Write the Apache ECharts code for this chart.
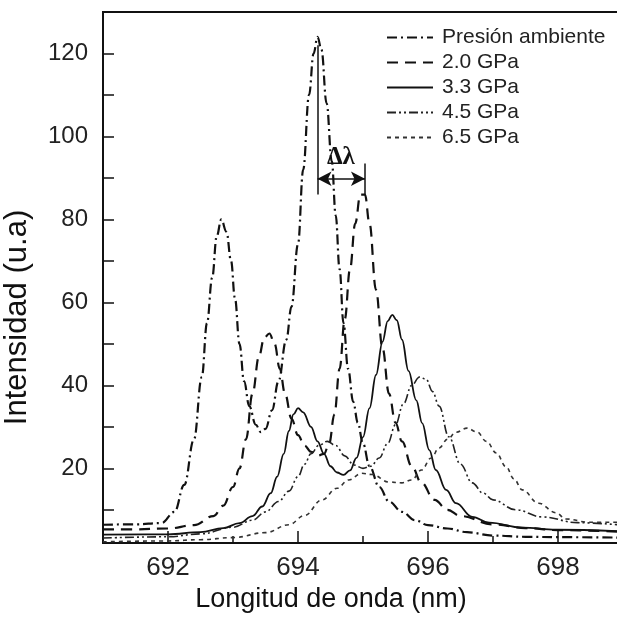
<!DOCTYPE html>
<html>
<head>
<meta charset="utf-8">
<script src="https://cdn.jsdelivr.net/npm/echarts@6/dist/echarts.min.js"></script>
<style>
  html, body { margin: 0; padding: 0; background: #fff; }
  #chart { width: 617px; height: 628px; }
</style>
</head>
<body>
<div id="chart"></div>
<script>
  // nombres de la leyenda
  const seriesNames = ['Presión ambiente', '2.0 GPa', '3.3 GPa', '4.5 GPa', '6.5 GPa']

  // Presión ambiente (raya-punto)
  const ambX = [691.0, 691.5, 691.9, 692.1, 692.25, 692.4, 692.52, 692.6, 692.68, 692.75, 692.82, 692.9, 692.97, 693.03, 693.1, 693.17, 693.25, 693.35, 693.43, 693.5, 693.6, 693.7, 693.82, 693.9, 694.0, 694.08, 694.17, 694.24, 694.3, 694.36, 694.44, 694.52, 694.58, 694.64, 694.7, 694.77, 694.85, 694.92, 695.0, 695.1, 695.25, 695.4, 695.6, 695.8, 696.0, 696.3, 696.6, 697.0, 697.5, 698.0, 699.0]
  const ambY = [6.4, 6.5, 6.8, 9.5, 16, 27, 42, 55, 66, 76, 80, 77, 70, 61, 50, 41, 35, 30.5, 28.7, 29.5, 34, 41, 51, 59, 74, 92, 110, 120, 124, 121, 108, 94, 81, 68, 55, 44, 36, 31, 26, 20.5, 15.5, 12, 9.5, 7.5, 6.3, 5.5, 4.6, 3.8, 3.5, 3.4, 3.3]

  // 2.0 GPa (rayas)
  const p20X = [691.0, 691.5, 692.0, 692.4, 692.7, 692.85, 693.0, 693.1, 693.2, 693.3, 693.4, 693.48, 693.56, 693.64, 693.72, 693.8, 693.9, 694.0, 694.1, 694.2, 694.3, 694.4, 694.48, 694.56, 694.64, 694.72, 694.8, 694.88, 694.96, 695.03, 695.1, 695.2, 695.3, 695.4, 695.5, 695.6, 695.75, 695.9, 696.1, 696.3, 696.5, 697.0, 697.5, 698.0, 699.0]
  const p20Y = [5.3, 5.3, 5.5, 6.3, 8.5, 11, 15.5, 20, 27, 38, 47, 51.5, 52.5, 50, 44, 38, 32, 28, 25.5, 24, 23, 23.5, 26, 33, 44, 56, 68, 79, 86, 86, 79, 63, 49, 38, 31, 26.5, 20.5, 16.5, 12.4, 10, 8.5, 6.5, 5.6, 5.1, 4.7]

  // 3.3 GPa (continua)
  const p33X = [691.0, 692.0, 692.5, 692.85, 693.1, 693.3, 693.45, 693.58, 693.68, 693.78, 693.86, 693.93, 694.0, 694.08, 694.2, 694.3, 694.4, 694.5, 694.6, 694.7, 694.8, 694.9, 695.0, 695.1, 695.2, 695.3, 695.38, 695.45, 695.52, 695.6, 695.7, 695.82, 695.91, 696.02, 696.12, 696.28, 696.43, 696.68, 696.94, 697.45, 697.97, 699.0]
  const p33Y = [4.0, 4.1, 4.6, 5.6, 6.8, 8.5, 10.8, 14, 18, 23.5, 29, 33, 34.5, 33.5, 30, 26.5, 23.5, 20.5, 19, 18.4, 19.5, 22.5, 27.5, 34.5, 42.5, 50.5, 55.5, 57, 55.7, 51, 43.5, 36.4, 30.9, 24.4, 19.6, 14.8, 11.6, 8.3, 6.9, 5.7, 5.2, 4.8]

  // 4.5 GPa (raya-punto-punto)
  const p45X = [691.0, 692.0, 692.5, 693.0, 693.3, 693.5, 693.7, 693.86, 694.0, 694.1, 694.2, 694.32, 694.45, 694.58, 694.72, 694.86, 695.0, 695.12, 695.25, 695.38, 695.5, 695.62, 695.75, 695.87, 695.97, 696.07, 696.17, 696.32, 696.5, 696.68, 696.85, 697.0, 697.35, 697.75, 698.3, 699.0]
  const p45Y = [3.2, 3.5, 4.2, 5.8, 7.5, 9.5, 12, 14.5, 18, 21, 23.5, 25.5, 26.5, 25.5, 23, 20.8, 20, 20.5, 22.5, 26, 30.5, 35.5, 40, 42, 41.5, 38.5, 35, 27.6, 21, 16.5, 14, 12.4, 10, 8.3, 6.9, 6.3]

  // 6.5 GPa (rayas cortas)
  const p65X = [691.0, 692.0, 692.5, 693.0, 693.5, 693.86, 694.1, 694.37, 694.6, 694.78, 694.98, 695.14, 695.4, 695.6, 695.75, 695.9, 696.05, 696.17, 696.3, 696.43, 696.6, 696.75, 696.9, 697.05, 697.2, 697.32, 697.45, 697.7, 697.97, 698.12, 698.48, 699.0]
  const p65Y = [2.3, 2.5, 2.8, 3.3, 4.5, 6.4, 8.6, 12.4, 15.2, 17.2, 18.8, 18.5, 16.7, 16.5, 17.2, 19.6, 22.5, 24.9, 27, 28.7, 29.7, 28.8, 26.5, 23.7, 20.4, 17.5, 14.8, 11.6, 9.3, 7.8, 7.0, 7.0]

  // ejes
  const xLabels = [692, 694, 696, 698]
  const xMinorTicks = [693, 695, 697]
  const yTicks = [10, 20, 30, 40, 50, 60, 70, 80, 90, 100, 110, 120]
  const yLabels = [20, 40, 60, 80, 100, 120]

  // marcas del Δλ (coordenadas de datos)
  const dlLeft = 694.3
  const dlRight = 695.03

  const font = 'Liberation Sans'
  const zip = (xs, ys) => xs.map((x, i) => [x, ys[i]])

  const lineSeries = (name, xs, ys, type, width, color) => ({
    name: name,
    type: 'line',
    data: zip(xs, ys),
    smooth: 0.4,
    smoothMonotone: 'x',
    symbol: 'none',
    showSymbol: false,
    lineStyle: { color: color, width: width, type: type },
    itemStyle: { color: color },
    z: 3
  })

  const chart = echarts.init(document.getElementById('chart'))
  const ambient = lineSeries(seriesNames[0], ambX, ambY, [10, 4, 2, 4], 2.2, '#111')
  ambient.markLine = {
    silent: true,
    symbol: ['none', 'none'],
    label: { show: false },
    lineStyle: { color: '#111', width: 1.5, type: 'solid' },
    data: [
      [{ coord: [dlLeft, 122] }, { coord: [dlLeft, 86] }],
      [{ coord: [dlRight, 93.5] }, { coord: [dlRight, 86] }],
      [{ coord: [dlLeft, 89.8], symbol: 'arrow', symbolSize: [11, 14] }, { coord: [dlRight, 89.8], symbol: 'arrow', symbolSize: [11, 14] }]
    ]
  }
  ambient.markPoint = {
    silent: true,
    symbol: 'rect',
    symbolSize: 0,
    data: [{ coord: [694.66, 94.8] }],
    label: {
      show: true,
      position: 'inside',
      formatter: 'Δλ',
      fontFamily: 'Liberation Serif',
      fontWeight: 'bold',
      fontSize: 25,
      color: '#111'
    }
  }

  chart.setOption({
    animation: false,
    backgroundColor: '#fff',
    grid: {
      left: 103,
      right: -6,
      top: 12,
      bottom: 85,
      outerBoundsMode: 'none',
      show: true,
      borderColor: '#111',
      borderWidth: 2
    },
    legend: {
      data: seriesNames,
      orient: 'vertical',
      left: 381,
      top: 22,
      itemWidth: 46,
      itemHeight: 14,
      itemGap: 4,
      itemStyle: { opacity: 0 },
      textStyle: { fontFamily: font, fontSize: 21, color: '#222', padding: [0, 0, 0, 4] }
    },
    xAxis: [
      {
        type: 'value',
        min: 691,
        max: 699,
        interval: 1,
        name: 'Longitud de onda (nm)',
        nameLocation: 'middle',
        nameGap: 36,
        nameTextStyle: { fontFamily: font, fontSize: 27, color: '#111', padding: [0, 64, 0, 0] },
        axisLine: { lineStyle: { color: '#111', width: 2 } },
        axisTick: { inside: true, length: 12, customValues: xLabels, lineStyle: { color: '#111', width: 1.5 } },
        axisLabel: { customValues: xLabels, fontFamily: font, fontSize: 26, color: '#222', margin: 12 },
        splitLine: { show: false }
      },
      {
        type: 'value',
        min: 691,
        max: 699,
        interval: 1,
        position: 'bottom',
        axisLine: { show: false },
        axisTick: { inside: true, length: 7, customValues: xMinorTicks, lineStyle: { color: '#111', width: 1.5 } },
        axisLabel: { show: false },
        splitLine: { show: false }
      }
    ],
    yAxis: {
      type: 'value',
      min: 2,
      max: 130,
      name: 'Intensidad (u.a)',
      nameLocation: 'middle',
      nameRotate: 90,
      nameGap: 70,
      nameTextStyle: { fontFamily: font, fontSize: 31, color: '#111', padding: [0, 80, 0, 0] },
      axisLine: { lineStyle: { color: '#111', width: 2 } },
      axisTick: { inside: true, length: 11, customValues: yTicks, lineStyle: { color: '#111', width: 1.5 } },
      axisLabel: { customValues: yLabels, fontFamily: font, fontSize: 24, color: '#222', margin: 15 },
      splitLine: { show: false }
    },
    series: [
      ambient,
      lineSeries(seriesNames[1], p20X, p20Y, [11, 7], 2.2, '#111'),
      lineSeries(seriesNames[2], p33X, p33Y, 'solid', 1.8, '#111'),
      lineSeries(seriesNames[3], p45X, p45Y, [9, 3, 2, 3, 2, 3], 1.6, '#222'),
      lineSeries(seriesNames[4], p65X, p65Y, [4, 4], 1.6, '#333')
    ]
  })
</script>
</body>
</html>
